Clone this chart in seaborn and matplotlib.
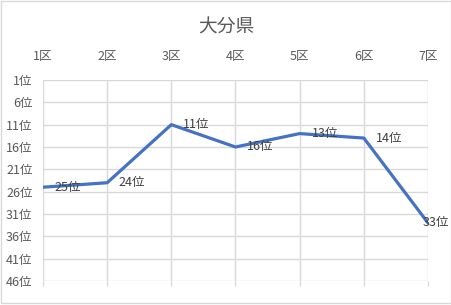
import matplotlib
matplotlib.use("Agg")
import matplotlib.pyplot as plt
import seaborn as sns
import pandas as pd
from matplotlib.patches import Rectangle

districts = ["1区", "2区", "3区", "4区", "5区", "6区", "7区"]
ranks = [25, 24, 11, 16, 13, 14, 33]
y_ticks = [1, 6, 11, 16, 21, 26, 31, 36, 41, 46]
y_labels = [f"{v}位" for v in y_ticks]
title = "大分県"

sns.set_theme(style="white")
plt.rcParams["font.family"] = ["Noto Sans CJK JP", "DejaVu Sans"]

text_color = "#595959"
grid_color = "#d9d9d9"
line_color = "#4472C4"

df = pd.DataFrame({"district": districts, "rank": ranks})

fig = plt.figure(figsize=(4.52, 3.05), dpi=100)
ax = fig.add_axes([43 / 452, 1 - 281 / 305, (428 - 43) / 452, (281 - 80) / 305])

sns.lineplot(data=df, x="district", y="rank", ax=ax, color=line_color,
             linewidth=2.3, sort=False)

ax.set_xlim(0, len(districts) - 1)
ax.set_ylim(46, 1)
ax.set_xticks(range(len(districts)))
ax.set_xticklabels(districts)
ax.set_yticks(y_ticks)
ax.set_yticklabels(y_labels)
ax.set_xlabel("")
ax.set_ylabel("")

ax.grid(True, color=grid_color, linewidth=1)
ax.set_axisbelow(True)
for s in ax.spines.values():
    s.set_visible(False)

ax.tick_params(axis="x", bottom=True, top=False, labelbottom=False, labeltop=True,
               length=3.6, width=1, color=grid_color, direction="out", pad=8.3,
               labelsize=9, labelcolor=text_color)
ax.tick_params(axis="y", left=False, right=False, length=0, pad=7.5,
               labelsize=9, labelcolor=text_color)

last = len(ranks) - 1
for i, r in enumerate(ranks):
    dx = -4 if i == last else 8.5
    ax.annotate(f"{r}位", (i, r), xytext=(dx, 0), textcoords="offset points",
                ha="left", va="center", fontsize=9, color="#404040",
                annotation_clip=False)

fig.text(0.5, 1 - 27 / 305, title, ha="center", va="center", fontsize=13.5,
         color=text_color)

fig.patches.append(Rectangle((1 / 452, 2.5 / 305), 450 / 452, 301.5 / 305,
                             transform=fig.transFigure, fill=False,
                             edgecolor="#d9d9d9", linewidth=1))

fig.savefig("out.png", dpi=100)
